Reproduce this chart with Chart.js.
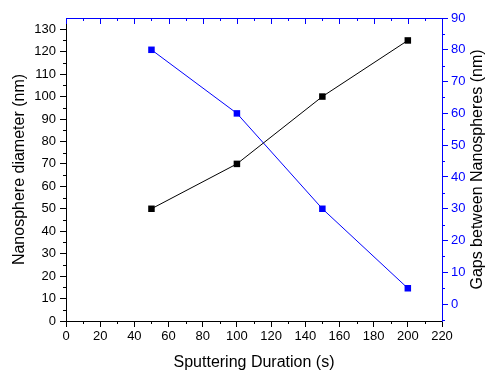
<!DOCTYPE html>
<html>
<head>
<meta charset="utf-8">
<script src="https://cdn.jsdelivr.net/npm/chart.js@4/dist/chart.umd.min.js"></script>
<style>
  html, body { margin: 0; padding: 0; background: #fff; }
  #wrap { width: 485px; height: 372px; }
</style>
</head>
<body>
<div id="wrap"><canvas id="grafico"></canvas></div>
<script>
// data
var duracao = [50, 100, 150, 200];
var diametro = [50, 70, 100, 125];
var gaps = [80, 60, 30, 5];

// tick labels
var ticksX = [0, 20, 40, 60, 80, 100, 120, 140, 160, 180, 200, 220];
var ticksEsq = [0, 10, 20, 30, 40, 50, 60, 70, 80, 90, 100, 110, 120, 130];
var ticksDir = [0, 10, 20, 30, 40, 50, 60, 70, 80, 90];

var azul = "#0000ff";
var fonte = "'Liberation Sans', Arial, sans-serif";
var tituloDireita = "Gaps between Nanospheres (nm)";

// minor ticks, the top frame ticks and the right title (reads upward)
var ticksMenores = {
    id: "ticksMenores",
    afterDraw: function (chart) {
        var ctx = chart.ctx;
        var sx = chart.scales.x, sy = chart.scales.y, sy1 = chart.scales.y1;
        var area = chart.chartArea;
        ctx.save();
        ctx.lineWidth = 1;

        // bottom minor
        ctx.strokeStyle = "#000";
        ctx.beginPath();
        for (var v = 10; v < 220; v += 20) {
            var px = Math.round(sx.getPixelForValue(v)) + 0.5;
            ctx.moveTo(px, area.bottom);
            ctx.lineTo(px, area.bottom + 3);
        }
        // left minor
        for (var v = 5; v < 135; v += 10) {
            var py = Math.round(sy.getPixelForValue(v)) + 0.5;
            ctx.moveTo(area.left, py);
            ctx.lineTo(area.left - 3, py);
        }
        ctx.stroke();

        // top frame, blue, ticks pointing in
        ctx.strokeStyle = azul;
        ctx.beginPath();
        ctx.moveTo(area.left, area.top + 0.5);
        ctx.lineTo(area.right, area.top + 0.5);
        for (var v = 0; v <= 220; v += 10) {
            var px = Math.round(sx.getPixelForValue(v)) + 0.5;
            ctx.moveTo(px, area.top);
            ctx.lineTo(px, area.top + (v % 20 == 0 ? 6 : 3));
        }
        // right minor
        for (var v = -5; v < 90; v += 10) {
            var py = Math.round(sy1.getPixelForValue(v)) + 0.5;
            ctx.moveTo(area.right, py);
            ctx.lineTo(area.right + 3, py);
        }
        ctx.stroke();

        // right title
        ctx.translate(478, (area.top + area.bottom) / 2);
        ctx.rotate(-Math.PI / 2);
        ctx.fillStyle = "#000";
        ctx.font = "16px " + fonte;
        ctx.textAlign = "center";
        ctx.textBaseline = "middle";
        ctx.fillText(tituloDireita, 0, 0);
        ctx.restore();
    }
};

function poeTicks(lista) {
    return function (scale) {
        scale.ticks = lista.map(function (v) { return { value: v }; });
    };
}

geraGrafico(document.getElementById("grafico"));

function geraGrafico(ctx) {
    Chart.defaults.font.family = fonte;
    Chart.defaults.color = "#000";

    new Chart(ctx, {
        type: "line",
        data: {
            datasets: [{
                label: "Nanosphere diameter",
                data: duracao.map(function (d, i) { return { x: d, y: diametro[i] }; }),
                yAxisID: "y",
                borderColor: "#000",
                backgroundColor: "#000",
                borderWidth: 1,
                pointStyle: "rect",
                pointRadius: 4.6,
                pointBorderWidth: 0
            }, {
                label: "Gaps between Nanospheres",
                data: duracao.map(function (d, i) { return { x: d, y: gaps[i] }; }),
                yAxisID: "y1",
                borderColor: azul,
                backgroundColor: azul,
                borderWidth: 1,
                pointStyle: "rect",
                pointRadius: 4.6,
                pointBorderWidth: 0
            }]
        },
        options: {
            animation: false,
            responsive: true,
            maintainAspectRatio: false,
            layout: { padding: { top: 18, left: 0, right: 0, bottom: 0 } },
            plugins: { legend: { display: false }, tooltip: { enabled: false } },
            scales: {
                x: {
                    type: "linear",
                    position: "bottom",
                    min: 0, max: 220,
                    afterBuildTicks: poeTicks(ticksX),
                    ticks: { font: { size: 13 }, color: "#000", padding: 2, maxRotation: 0, autoSkip: false },
                    grid: { drawOnChartArea: false, tickLength: 6, tickColor: "#000" },
                    border: { color: "#000", width: 1 },
                    title: { display: true, text: "Sputtering Duration (s)", font: { size: 16 }, color: "#000", padding: 0 },
                    afterFit: function (s) { s.height = 51; }
                },
                y: {
                    position: "left",
                    min: 0, max: 135,
                    afterBuildTicks: poeTicks(ticksEsq),
                    ticks: { font: { size: 13 }, color: "#000", padding: 4, autoSkip: false },
                    grid: { drawOnChartArea: false, tickLength: 6, tickColor: "#000" },
                    border: { color: "#000", width: 1 },
                    title: { display: true, text: "Nanosphere diameter (nm)", font: { size: 16 }, color: "#000", padding: { top: 9.5, bottom: 0 } },
                    afterFit: function (s) { s.width = 66; }
                },
                y1: {
                    position: "right",
                    min: -5.3, max: 90,
                    afterBuildTicks: poeTicks(ticksDir),
                    ticks: { font: { size: 13 }, color: azul, padding: 3, autoSkip: false },
                    grid: { drawOnChartArea: false, tickLength: 6, tickColor: azul },
                    border: { color: azul, width: 1 },
                    afterFit: function (s) { s.width = 43; }
                }
            }
        },
        plugins: [ticksMenores]
    });
}
</script>
</body>
</html>
